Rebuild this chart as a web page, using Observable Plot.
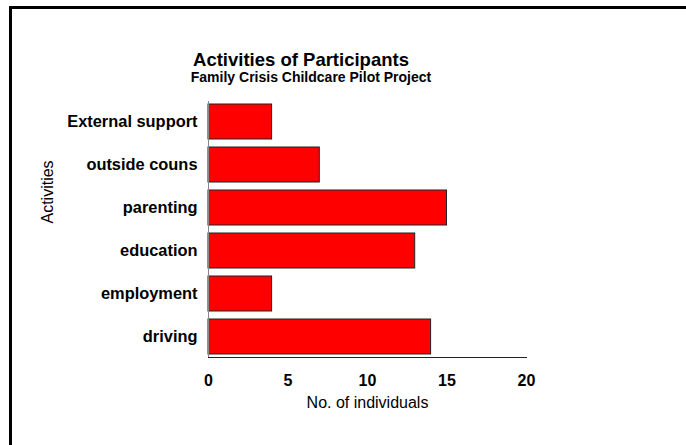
<!DOCTYPE html>
<html><head><meta charset="utf-8">
<script src="https://cdn.jsdelivr.net/npm/d3@7"></script>
<script src="https://cdn.jsdelivr.net/npm/@observablehq/plot@0.6"></script>
<style>body{margin:0;background:#fff}#c{width:686px;height:445px}</style>
</head><body><div id="c"></div>
<script>
const activities = ["External support","outside couns","parenting","education","employment","driving"];
const counts = [4, 7, 15, 13, 4, 14];
const xTicks = [0, 5, 10, 15, 20];
const title = "Activities of Participants";
const subtitle = "Family Crisis Childcare Pilot Project";
const xLabel = "No. of individuals";
const yLabel = "Activities";

const data = activities.map((a, i) => ({activity: a, count: counts[i]}));
const font = "Arial, 'Liberation Sans', Helvetica, sans-serif";

const chart = Plot.plot({
  width: 686, height: 445,
  marginLeft: 208, marginRight: 160, marginTop: 101, marginBottom: 88,
  style: {fontFamily: font, background: "white", color: "black", overflow: "visible"},
  x: {domain: [0, 20]},
  y: {domain: activities, paddingInner: 0.19, paddingOuter: 0.03},
  marks: [
    Plot.barX(data, {x: "count", y: "activity", fill: "#ff0000", stroke: "#222", strokeWidth: 1}),
    Plot.ruleX([0], {stroke: "#888"}),
    Plot.frame({anchor: "bottom", stroke: "#222"}),
    Plot.axisY({tickSize: 0, tickPadding: 11, fontSize: 16.4, fontWeight: "bold", label: null}),
    Plot.axisX({ticks: xTicks, tickSize: 0, tickPadding: 17, fontSize: 16, fontWeight: "bold", label: null}),
    Plot.text([xLabel], {text: d => d, frameAnchor: "bottom", dy: 50, fontSize: 16}),
    Plot.text([yLabel], {text: d => d, frameAnchor: "left", dx: -161, dy: -6, rotate: -90, fontSize: 16})
  ]
});

const svg = d3.select(chart);
svg.append("text").attr("x", 301).attr("y", 66).attr("text-anchor", "middle")
  .attr("font-size", 18.5).attr("font-weight", "bold")
  .attr("font-family", font).attr("fill", "black").text(title);
svg.append("text").attr("x", 311).attr("y", 82).attr("text-anchor", "middle")
  .attr("font-size", 14).attr("font-weight", "bold")
  .attr("font-family", font).attr("fill", "black").text(subtitle);
svg.append("line").attr("x1", 9).attr("x2", 686).attr("y1", 7.5).attr("y2", 7.5)
  .attr("stroke", "black").attr("stroke-width", 3);
svg.append("line").attr("x1", 10.5).attr("x2", 10.5).attr("y1", 6).attr("y2", 445)
  .attr("stroke", "black").attr("stroke-width", 3);

document.getElementById("c").appendChild(chart);
</script>
</body></html>
